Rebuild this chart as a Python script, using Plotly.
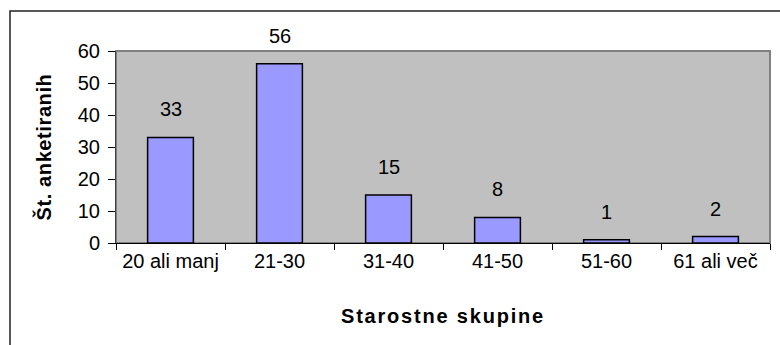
import plotly.graph_objects as go

categories = ["20 ali manj", "21-30", "31-40", "41-50", "51-60", "61 ali več"]
counts = [33, 56, 15, 8, 1, 2]
y_ticks = [0, 10, 20, 30, 40, 50, 60]
x_title = "Starostne skupine"
y_title = "Št. anketiranih"

FONT = "Liberation Sans, Arial, sans-serif"
FS = 20

fig = go.Figure()
fig.add_trace(go.Bar(
    x=categories, y=counts,
    marker=dict(color="#9999FF", line=dict(color="#000000", width=1.5)),
    width=0.42,
    hoverinfo="x+y",
))

for c, v in zip(categories, counts):
    fig.add_annotation(x=c, y=v, text=str(v), showarrow=False,
                       yanchor="bottom", yshift=15,
                       font=dict(family=FONT, size=FS, color="#000000"))

# plot frame
fig.add_shape(type="rect", xref="paper", yref="paper", x0=0, y0=0, x1=1, y1=1,
              line=dict(color="#808080", width=2), layer="below")
# outer chart border
fig.add_shape(type="rect", xref="paper", yref="paper",
              x0=(10 - 116) / 654, y0=-(355 - 243) / 192,
              x1=(800 - 116) / 654, y1=1 + (51 - 11) / 192,
              line=dict(color="#222222", width=1.5), layer="below")

fig.update_layout(
    width=780, height=345,
    margin=dict(l=116, r=10, t=51, b=102),
    paper_bgcolor="#FFFFFF",
    plot_bgcolor="#C0C0C0",
    showlegend=False,
    font=dict(family=FONT, size=FS, color="#000000"),
)
fig.update_xaxes(
    type="category",
    tickson="boundaries",
    ticks="outside", ticklen=6, tickcolor="#000000", tickwidth=1,
    showline=True, linecolor="#000000", linewidth=1,
    showgrid=False, zeroline=False,
    tickfont=dict(family=FONT, size=FS),
    title=dict(text=x_title, font=dict(family=FONT, size=FS, weight="bold"), standoff=37),
    automargin=False,
)
fig.update_yaxes(
    range=[0, 60], tickvals=y_ticks,
    ticks="outside", ticklen=7, tickcolor="#000000", tickwidth=1,
    showline=True, linecolor="#404040", linewidth=1,
    showgrid=False, zeroline=False,
    tickfont=dict(family=FONT, size=FS),
    ticklabelstandoff=4,
    title=dict(text=y_title, font=dict(family=FONT, size=FS, weight="bold"), standoff=20),
    automargin=False,
)

post = (
    "document.body.style.margin='0';document.body.style.padding='0';"
    "document.querySelectorAll('.xtitle').forEach(function(e){e.style.letterSpacing='1.8px';});"
    "document.querySelectorAll('.ytitle').forEach(function(e){e.style.letterSpacing='0.6px';});"
)
fig.write_html("out.html", post_script=post, config={"displayModeBar": False})
